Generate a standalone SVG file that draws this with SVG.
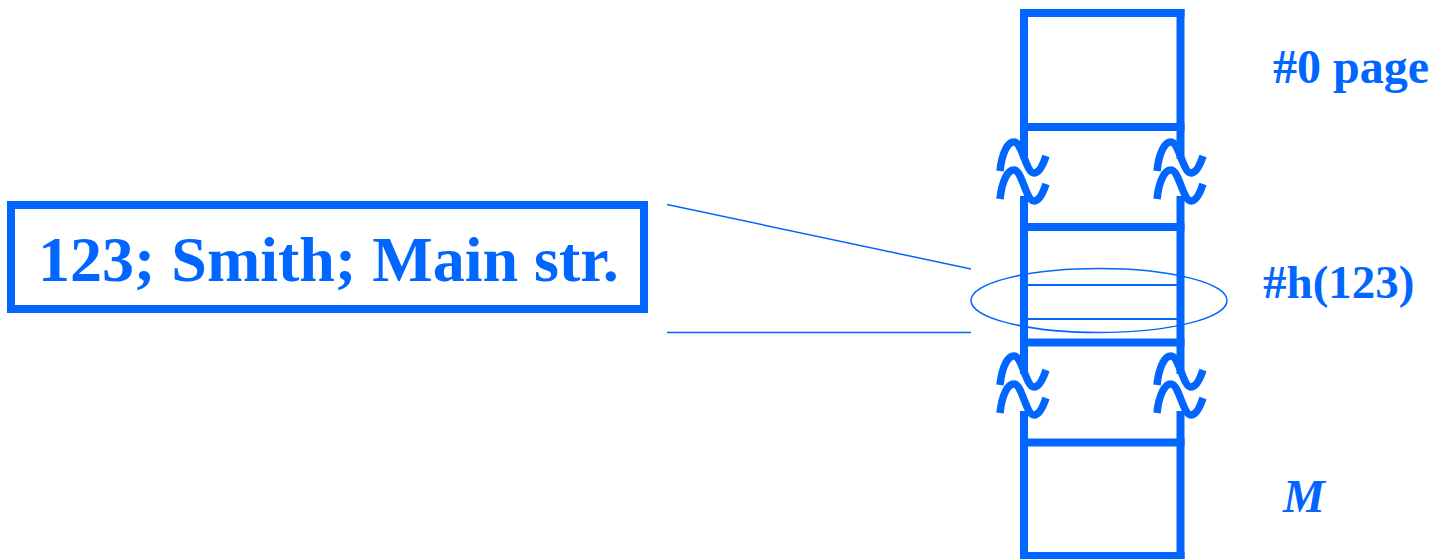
<svg xmlns="http://www.w3.org/2000/svg" width="1435" height="559" viewBox="0 0 1435 559">
<style>
.thick{stroke:#0066ff;stroke-width:8;fill:none;stroke-linecap:square}
.thin{stroke:#0066ff;stroke-width:2;fill:none}
.hair{stroke:#0066ff;stroke-width:1.5;fill:none}
.tilde{stroke:#0066ff;stroke-width:7.5;fill:none;stroke-linecap:butt}
.lbl{font-family:"Liberation Serif","Times New Roman",serif;font-weight:bold;fill:#0066ff}
</style>
<defs>
<path id="tl" d="M0,1 C2,-18 8,-28 14,-28 C22,-28 26,3 34,3 C40,3 44,-8 46,-14"/>
<g id="brk">
<use href="#tl" class="tilde"/>
<use href="#tl" class="tilde" y="28"/>
<use href="#tl" class="tilde" x="157"/>
<use href="#tl" class="tilde" x="157" y="28"/>
</g>
</defs>
<g id="record">
<rect x="11" y="205" width="633" height="104" class="thick" stroke-linecap="butt"/>
<text x="38" y="281" class="lbl" font-size="64">123; Smith; Main str.</text>
</g>
<g id="page-column">
<line x1="1024" y1="13" x2="1180.5" y2="13" class="thick"/>
<line x1="1024" y1="127" x2="1180.5" y2="127" class="thick"/>
<line x1="1024" y1="13" x2="1024" y2="155" class="thick"/>
<line x1="1180.5" y1="13" x2="1180.5" y2="155" class="thick"/>
<line x1="1024" y1="227" x2="1180.5" y2="227" class="thick"/>
<line x1="1024" y1="342.5" x2="1180.5" y2="342.5" class="thick"/>
<line x1="1024" y1="200" x2="1024" y2="370" class="thick" stroke-linecap="butt"/>
<line x1="1180.5" y1="200" x2="1180.5" y2="370" class="thick" stroke-linecap="butt"/>
<line x1="1028" y1="285" x2="1177" y2="285" class="thin" stroke-width="2.5"/>
<line x1="1028" y1="319" x2="1177" y2="319" class="thin" stroke-width="2.5"/>
<line x1="1024" y1="442.5" x2="1180.5" y2="442.5" class="thick"/>
<line x1="1024" y1="556" x2="1180.5" y2="556" class="thick"/>
<line x1="1024" y1="415" x2="1024" y2="556" class="thick" stroke-linecap="butt"/>
<line x1="1180.5" y1="415" x2="1180.5" y2="556" class="thick" stroke-linecap="butt"/>
<use href="#brk" x="1000" y="170"/>
<use href="#brk" x="1000" y="384"/>
</g>
<g id="highlight">
<ellipse cx="1099" cy="300.5" rx="128" ry="32" class="hair"/>
</g>
<g id="connectors">
<line x1="667" y1="204.5" x2="971" y2="269" class="hair"/>
<line x1="667" y1="332.5" x2="971" y2="332.5" class="hair"/>
</g>
<g id="labels">
<text x="1273" y="83" class="lbl" font-size="48">#0 page</text>
<text x="1263" y="298" class="lbl" font-size="47">#h(123)</text>
<text x="1283" y="512" class="lbl" font-size="47" font-style="italic">M</text>
</g>
</svg>
